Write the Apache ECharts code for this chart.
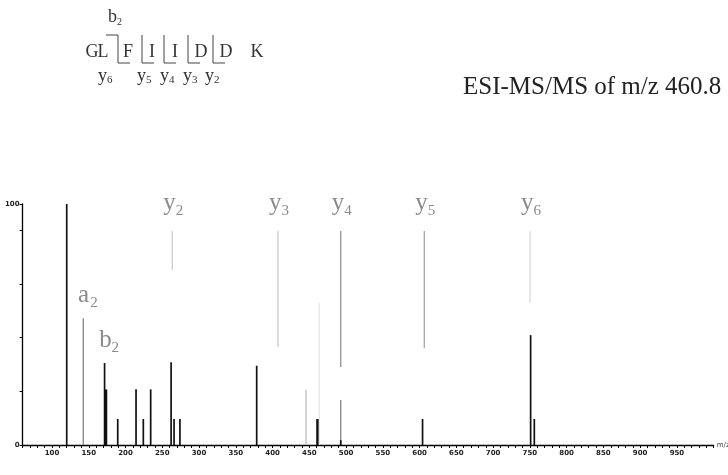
<!DOCTYPE html>
<html><head><meta charset="utf-8">
<script src="https://cdn.jsdelivr.net/npm/echarts/dist/echarts.min.js"></script>
<style>html,body{margin:0;padding:0;background:#fff}#c{width:728px;height:475px}</style>
</head><body><div id="c"></div>
<script>
// ---------------- data ----------------
const xTickLabels = [100,150,200,250,300,350,400,450,500,550,600,650,700,750,800,850,900,950];
const blackPeakMz  = [120, 171.5, 173, 174, 189.4, 214.3, 224.2, 234.2, 262, 266, 274, 378.4, 460.5, 461.5, 492.7, 604, 751, 756];
const blackPeakInt = [100, 34,    23,  23,  10.8,  23.1,  10.8,  23.1,  34.3, 10.8, 10.8, 32.9, 10.8, 10.8, 2,   10.8, 45.6, 10.8];
const grayPeakMz   = [142.6, 492.7];
const grayPeakInt  = [52.6, 18.7];
const lightPeakMz  = [445.5];
const lightPeakInt = [22.8];
const faintPeakMz  = [463.6];
const faintPeakInt = [59];
const peakLabelMz  = [142.6, 171.5];
const peakLabelInt = [52.6, 34];
const peakLabelIon = ['a', 'b'];
const peakLabelSub = ['2', '2'];
const yIonMz     = [263.6, 407.4, 492.7, 606.4, 750.2];
const yIonTop    = [88.8, 88.8, 88.8, 88.8, 88.8];
const yIonBottom = [72.6, 40.7, 32.4, 40.2, 58.9];
const yIonSub    = ['2', '3', '4', '5', '6'];
const sequence   = ['G', 'L', 'F', 'I', 'I', 'D', 'D', 'K'];
const seqYIons   = ['6', '5', '4', '3', '2'];
const titleText  = 'ESI-MS/MS of m/z 460.8';

// ---------------- styles ----------------
const SERIF = '"Liberation Serif","DejaVu Serif",serif';
const yIonLineColors = ['#d2d2d2', '#cdcdcd', '#9a9a9a', '#aaaaaa', '#dcdcdc'];
const labelColor = '#8a8a8a';

function stickSeries(mz, inten, color, width, z) {
  return {
    type: 'custom', z: z, silent: true,
    data: mz.map((m, i) => [m, inten[i]]),
    encode: {x: 0, y: 1},
    renderItem: function (params, api) {
      const p0 = api.coord([api.value(0), 0]);
      const p1 = api.coord([api.value(0), api.value(1)]);
      return {type: 'line', shape: {x1: p0[0], y1: p0[1], x2: p1[0], y2: p1[1]},
              style: {stroke: color, lineWidth: width}};
    }
  };
}

const seriesList = [
  stickSeries(faintPeakMz, faintPeakInt, '#e6e6e6', 1.2, 1),
  stickSeries(lightPeakMz, lightPeakInt, '#bdbdbd', 1.3, 2),
  stickSeries(grayPeakMz, grayPeakInt, '#8c8c8c', 1.4, 3),
  stickSeries(blackPeakMz, blackPeakInt, '#111111', 1.7, 4),
  { // y-ion annotations
    type: 'custom', z: 5, silent: true,
    data: yIonMz.map((m, i) => [m, yIonTop[i], yIonBottom[i]]),
    encode: {x: 0, y: [1, 2]},
    renderItem: function (params, api) {
      const i = params.dataIndex;
      const pt = api.coord([api.value(0), api.value(1)]);
      const pb = api.coord([api.value(0), api.value(2)]);
      return {type: 'group', children: [
        {type: 'line', shape: {x1: pt[0], y1: pt[1], x2: pb[0], y2: pb[1]},
         style: {stroke: yIonLineColors[i], lineWidth: 1.4}},
        {type: 'text', x: pt[0] - 9, y: pt[1] - 28,
         style: {text: 'y', font: '25px ' + SERIF, fill: labelColor, align: 'left', verticalAlign: 'middle'}},
        {type: 'text', x: pt[0] + 3.5, y: pt[1] - 20,
         style: {text: yIonSub[i], font: '15px ' + SERIF, fill: labelColor, align: 'left', verticalAlign: 'middle'}}
      ]};
    }
  },
  { // a2 / b2 labels
    type: 'custom', z: 5, silent: true,
    data: peakLabelMz.map((m, i) => [m, peakLabelInt[i]]),
    encode: {x: 0, y: 1},
    renderItem: function (params, api) {
      const i = params.dataIndex;
      const p = api.coord([api.value(0), api.value(1)]);
      return {type: 'group', children: [
        {type: 'text', x: p[0] - 5.3, y: p[1] - 23,
         style: {text: peakLabelIon[i], font: '25px ' + SERIF, fill: labelColor, align: 'left', verticalAlign: 'middle'}},
        {type: 'text', x: p[0] + 7, y: p[1] - 15,
         style: {text: peakLabelSub[i], font: '15px ' + SERIF, fill: labelColor, align: 'left', verticalAlign: 'middle'}}
      ]};
    }
  }
];

// ---------------- peptide diagram (graphic) ----------------
const seqX = [92, 103, 128, 152, 175, 201, 226, 257];
const seqY = 52;
const bracketX = [118, 142, 164, 188, 213];
const yRowX = [98, 137, 160, 183, 205];
const bTop = 35, bBot = 63, yRowY = 76;
const graphics = [];
sequence.forEach((s, i) => graphics.push({type: 'text', x: seqX[i], y: seqY,
  style: {text: s, font: '18px ' + SERIF, fill: '#333', align: 'center', verticalAlign: 'middle'}}));
graphics.push({type: 'polyline', shape: {points: [[106, bTop], [118, bTop]]}, style: {stroke: '#444', lineWidth: 1}});
bracketX.forEach((bx, i) => {
  graphics.push({type: 'polyline', shape: {points: [[bx, bTop], [bx, bBot], [bx + 12, bBot]]},
                 style: {stroke: '#444', lineWidth: 1, fill: null}});
  graphics.push({type: 'text', x: yRowX[i], y: yRowY,
    style: {text: 'y', font: '18px ' + SERIF, fill: '#333', align: 'left', verticalAlign: 'middle'}});
  graphics.push({type: 'text', x: yRowX[i] + 9, y: yRowY + 4,
    style: {text: seqYIons[i], font: '11px ' + SERIF, fill: '#333', align: 'left', verticalAlign: 'middle'}});
});
graphics.push({type: 'text', x: 108, y: 17,
  style: {text: 'b', font: '18px ' + SERIF, fill: '#333', align: 'left', verticalAlign: 'middle'}});
graphics.push({type: 'text', x: 117, y: 22,
  style: {text: '2', font: '10px ' + SERIF, fill: '#333', align: 'left', verticalAlign: 'middle'}});
graphics.push({type: 'text', x: 463, y: 87,
  style: {text: titleText, font: '25px ' + SERIF, fill: '#222', align: 'left', verticalAlign: 'middle'}});

const chart = echarts.init(document.getElementById('c'), null, {renderer: 'canvas'});
chart.setOption({
  animation: false,
  backgroundColor: '#fff',
  grid: {left: 22.6, right: 14.3, top: 204, bottom: 30, containLabel: false, outerBoundsMode: 'none'},
  xAxis: {
    type: 'value', min: 60, max: 1000, interval: 10,
    axisLine: {show: true, lineStyle: {color: '#000', width: 1.3}},
    axisTick: {show: true, length: 3, lineStyle: {color: '#000', width: 1}},
    axisLabel: {formatter: v => xTickLabels.indexOf(v) >= 0 ? String(v) : '',
                fontSize: 7, fontWeight: 'bold', color: '#222', margin: 5, fontFamily: 'DejaVu Sans'},
    splitLine: {show: false},
    name: 'm/z', nameLocation: 'end', nameGap: 3,
    nameTextStyle: {fontSize: 7, color: '#444', fontFamily: 'DejaVu Sans'}
  },
  yAxis: {
    type: 'value', min: 0, max: 100, interval: 22.3,
    axisLine: {show: true, lineStyle: {color: '#000', width: 1.3}},
    axisTick: {show: true, length: 3, lineStyle: {color: '#000'}},
    axisLabel: {formatter: v => (v === 0 ? '0' : (v === 100 ? '100' : '')),
                fontSize: 7, fontWeight: 'bold', color: '#222', margin: 3, fontFamily: 'DejaVu Sans'},
    splitLine: {show: false},
    name: '%', nameLocation: 'middle', nameGap: 14, nameRotate: 0,
    nameTextStyle: {fontSize: 7, color: '#222', fontWeight: 'bold'}
  },
  graphic: graphics,
  series: seriesList
});
</script></body></html>
